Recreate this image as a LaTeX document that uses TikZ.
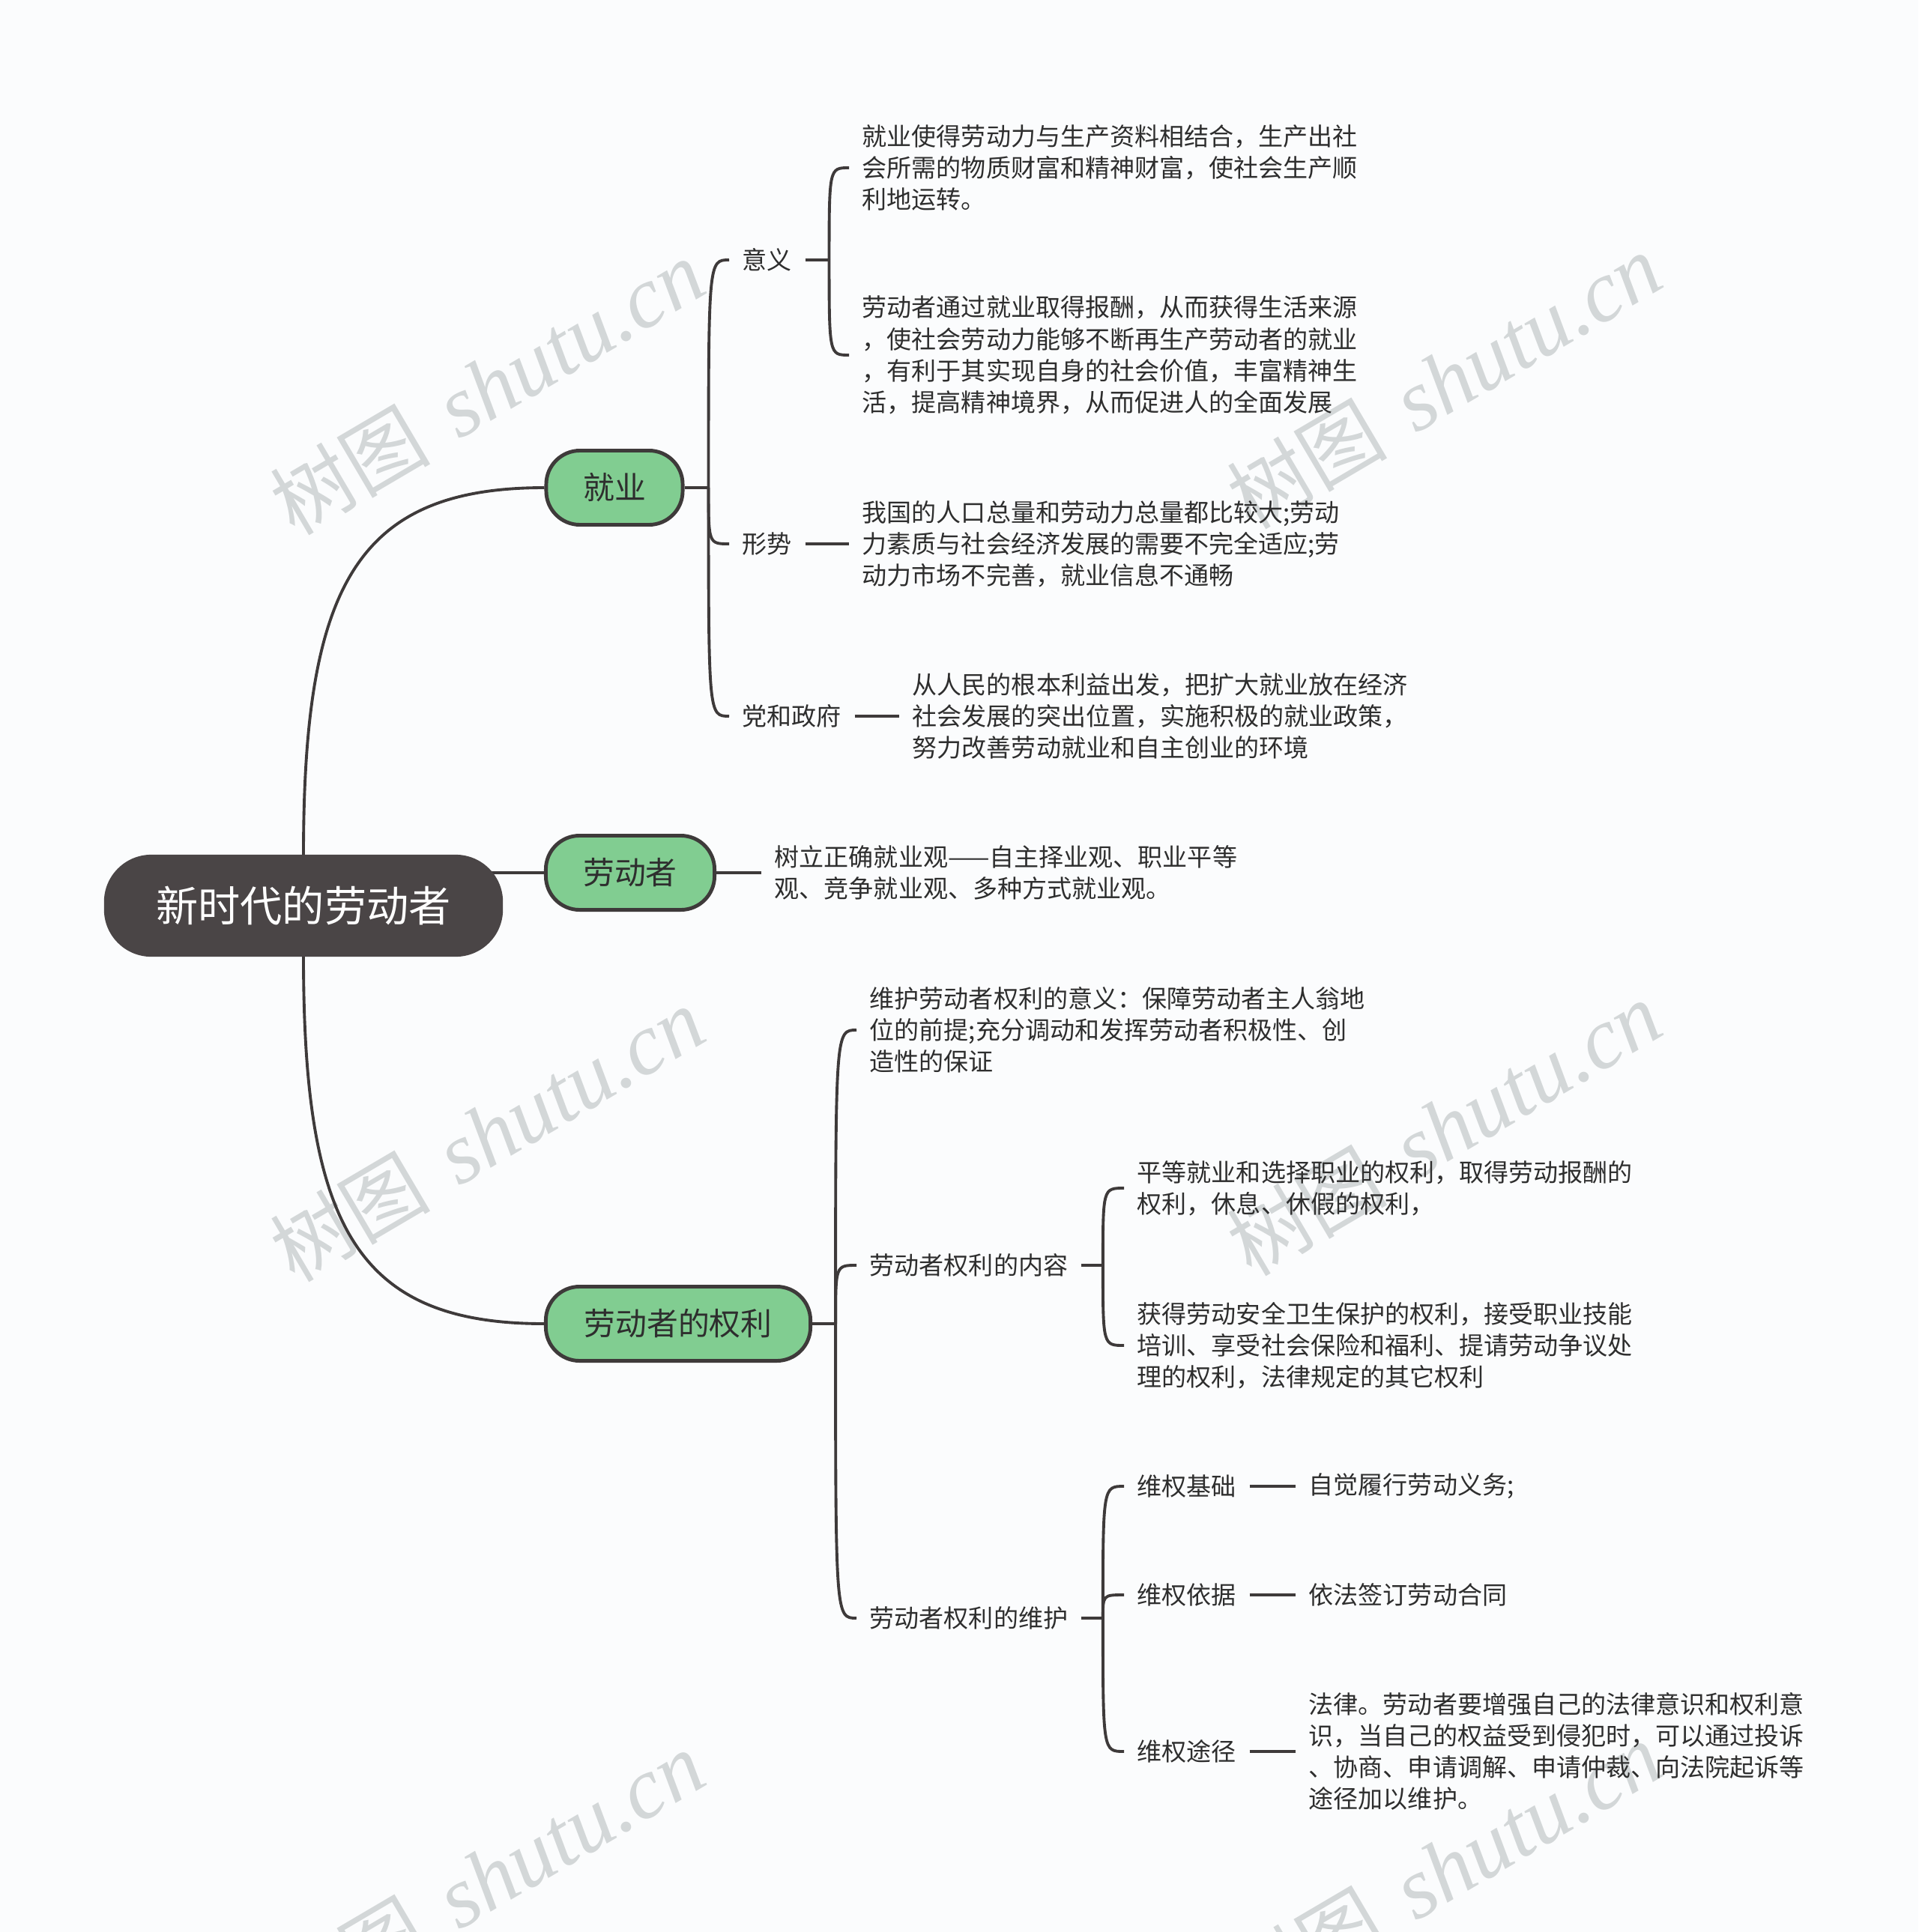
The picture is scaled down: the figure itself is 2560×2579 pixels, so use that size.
\documentclass[tikz,border=0pt]{standalone}
\usepackage{fontspec}
\setmainfont{Noto Sans CJK SC}
\newfontfamily\wmlat{Liberation Serif}
\newfontfamily\wmcjk{Noto Sans CJK SC}
\usetikzlibrary{backgrounds,calc}
\definecolor{linec}{HTML}{3E3A3A}
\definecolor{rootc}{HTML}{4A4546}
\definecolor{greenc}{HTML}{81CD91}
\definecolor{textc}{HTML}{2E2E2E}
\definecolor{wmc}{HTML}{D3D7D8}
\definecolor{bgc}{HTML}{FBFCFD}
\newcommand\hookto[2]{\draw[conn] (#1) .. controls (#1 |- #2) and (#1 |- #2) .. (#2);}
\tikzset{
  rootbox/.style={draw=rootc, line width=0.6pt, fill=rootc, text=white, rounded corners=0.62cm,
    minimum width=5.3cm, minimum height=1.34cm, font=\fontsize{16}{19}\selectfont, inner sep=0},
  topicbox/.style={draw=linec, line width=1.4pt, fill=greenc, text=textc, rounded corners=0.45cm,
    minimum height=0.99cm, font=\fontsize{11.9}{14}\selectfont, inner sep=0},
  subt/.style={anchor=west, inner xsep=0.17cm, inner ysep=0, text=textc,
    font=\fontsize{9.4}{12}\selectfont, align=left},
  leaf/.style={subt},
  conn/.style={draw=linec, line width=1.1pt},
  wm/.style={rotate=30.5, text=wmc, inner sep=0}
}
\begin{document}
\begin{tikzpicture}[x=0.01cm, y=-0.01cm]
\useasboundingbox (0,0) rectangle (2560,2579);
\begin{scope}[on background layer]
  \fill[bgc] (0,0) rectangle (2560,2579);
  \foreach \n/\px/\py in {w1/650/518, w2/1927/510, w3/650/1515, w4/1927/1507, w5/650/2508, w6/1927/2496}{
    \node[wm] (\n) at (\px,\py) {{\wmcjk\fontsize{30.5}{33}\selectfont 树图}\hspace{0.4cm}{\wmlat\itshape\fontsize{33}{36}\selectfont shutu.cn}};
  }
\end{scope}

% main nodes
\node[rootbox] (root) at (405,1209) {新时代的劳动者};
\node[topicbox, minimum width=1.82cm] (jy) at (820,651) {就业};
\node[topicbox, minimum width=2.25cm] (ldz) at (841,1165) {劳动者};
\node[topicbox, minimum width=3.53cm] (ql) at (905,1767) {劳动者的权利};

% 就业
\node[subt] (yy) at (973,347) {意义};
\node[subt] (xs) at (973,726) {形势};
\node[subt] (dz) at (973,956) {党和政府};
\node[leaf] (yy1) at (1133,224) {就业使得劳动力与生产资料相结合，生产出社\\会所需的物质财富和精神财富，使社会生产顺\\利地运转。};
\node[leaf] (yy2) at (1133,474) {劳动者通过就业取得报酬，从而获得生活来源\\，使社会劳动力能够不断再生产劳动者的就业\\，有利于其实现自身的社会价值，丰富精神生\\活，提高精神境界，从而促进人的全面发展};
\node[leaf] (xs1) at (1133,726) {我国的人口总量和劳动力总量都比较大;劳动\\力素质与社会经济发展的需要不完全适应;劳\\动力市场不完善，就业信息不通畅};
\node[leaf] (dz1) at (1200,956) {从人民的根本利益出发，把扩大就业放在经济\\社会发展的突出位置，实施积极的就业政策，\\努力改善劳动就业和自主创业的环境};

% 劳动者
\node[leaf] (ldz1) at (1016,1165) {树立正确就业观——自主择业观、职业平等\\观、竞争就业观、多种方式就业观。};

% 劳动者的权利
\node[leaf] (qyy) at (1143,1375) {维护劳动者权利的意义：保障劳动者主人翁地\\位的前提;充分调动和发挥劳动者积极性、创\\造性的保证};
\node[subt] (nr) at (1143,1689) {劳动者权利的内容};
\node[subt] (wh) at (1143,2160) {劳动者权利的维护};
\node[leaf] (nr1) at (1500,1586) {平等就业和选择职业的权利，取得劳动报酬的\\权利，休息、休假的权利，};
\node[leaf] (nr2) at (1500,1796) {获得劳动安全卫生保护的权利，接受职业技能\\培训、享受社会保险和福利、提请劳动争议处\\理的权利，法律规定的其它权利};
\node[subt] (jc) at (1500,1984) {维权基础};
\node[subt] (yj) at (1500,2129) {维权依据};
\node[subt] (tj) at (1500,2338) {维权途径};
\node[leaf] (jc1) at (1729,1984) {自觉履行劳动义务;};
\node[leaf] (yj1) at (1729,2129) {依法签订劳动合同};
\node[leaf] (tj1) at (1729,2338) {法律。劳动者要增强自己的法律意识和权利意\\识，当自己的权益受到侵犯时，可以通过投诉\\、协商、申请调解、申请仲裁、向法院起诉等\\途径加以维护。};

% junctions
\coordinate (j1) at ($(jy.east)+(32,0)$);
\coordinate (j2) at ($(yy.east)+(32,0)$);
\coordinate (j3) at ($(ql.east)+(31,0)$);
\coordinate (j4) at ($(nr.east)+(29,0)$);
\coordinate (j5) at ($(wh.east)+(29,0)$);

\begin{scope}[on background layer]
  \draw[conn] (root.north) .. controls +(0,-360) and +(-250,0) .. (jy.west);
  \draw[conn] (root.south) .. controls +(0,360) and +(-250,0) .. (ql.west);
  \draw[conn] (root.center |- ldz.west) -- (ldz.west);
  % 就业
  \draw[conn] (jy.east) -- (j1);
  \hookto{j1}{yy.west}
  \hookto{j1}{xs.west}
  \hookto{j1}{dz.west}
  \draw[conn] (yy.east) -- (j2);
  \hookto{j2}{yy1.west}
  \hookto{j2}{yy2.west}
  \draw[conn] (xs.east) -- (xs1.west);
  \draw[conn] (dz.east) -- (dz1.west);
  % 劳动者
  \draw[conn] (ldz.east) -- (ldz1.west);
  % 劳动者的权利
  \draw[conn] (ql.east) -- (j3);
  \hookto{j3}{qyy.west}
  \hookto{j3}{nr.west}
  \hookto{j3}{wh.west}
  \draw[conn] (nr.east) -- (j4);
  \hookto{j4}{nr1.west}
  \hookto{j4}{nr2.west}
  \draw[conn] (wh.east) -- (j5);
  \hookto{j5}{jc.west}
  \hookto{j5}{yj.west}
  \hookto{j5}{tj.west}
  \draw[conn] (jc.east) -- (jc1.west);
  \draw[conn] (yj.east) -- (yj1.west);
  \draw[conn] (tj.east) -- (tj1.west);
\end{scope}
\end{tikzpicture}
\end{document}
